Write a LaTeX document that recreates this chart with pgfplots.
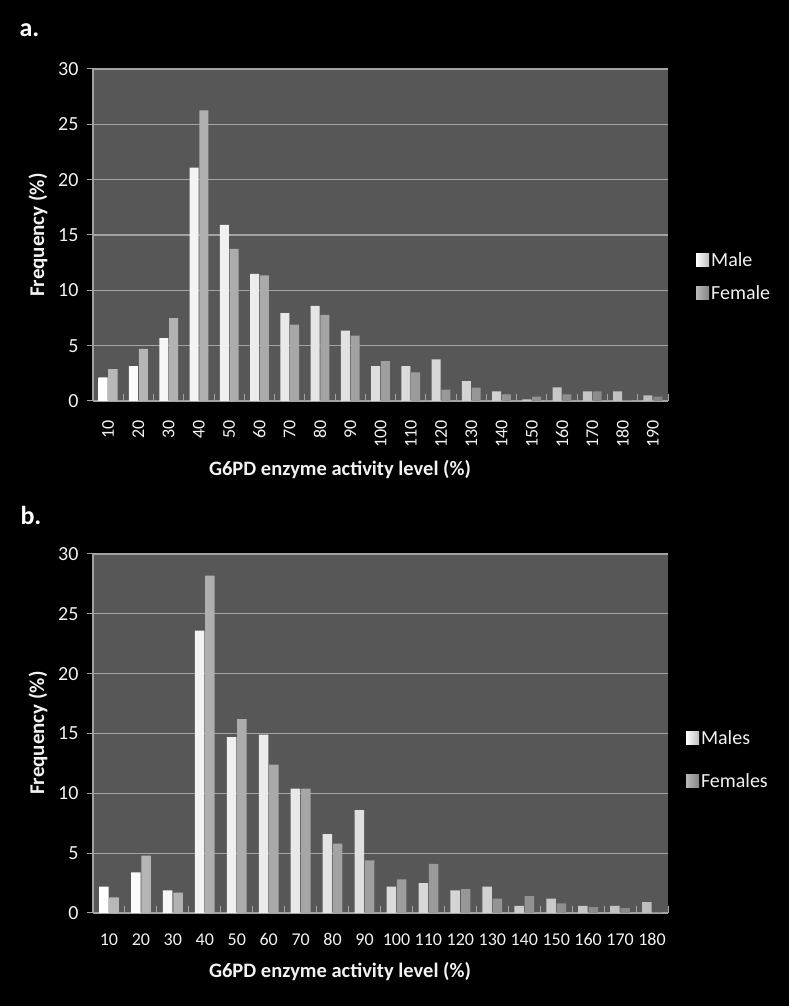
\documentclass[border=0pt]{standalone}
\usepackage{fontspec}
\setmainfont{Carlito}
\usepackage{pgfplots}
\pgfplotsset{compat=1.18}
\definecolor{plotbg}{HTML}{575757}
\definecolor{gridc}{HTML}{A3A3A3}
\definecolor{txt}{HTML}{F2F2F2}
\definecolor{mright}{HTML}{BDBDBD}
\definecolor{fleft}{HTML}{B8B8B8}
\definecolor{fright}{HTML}{858585}

\pgfplotsset{
 panel/.style={
  scale only axis, anchor=south west,
  xmin=0.5, ymin=0, ymax=30,
  ytick={0,5,10,15,20,25,30},
  axis background/.style={fill=plotbg},
  axis x line=bottom, axis y line=left,
  axis line style={draw=gridc, line width=1.2pt, -},
  ymajorgrids, major grid style={draw=gridc, line width=1.3pt},
  tick align=inside,
  major tick length=6pt, minor tick length=7pt,
  ytick style={draw=gridc, line width=1pt, xshift=-6pt},
  xtick style={draw=none},
  minor x tick style={draw=gridc, line width=1pt, yshift=7pt},
  ticklabel style={text=txt, font=\fontsize{18}{21}\selectfont},
  yticklabel style={font=\fontsize{20}{23}\selectfont},
  /pgf/number format/assume math mode=true,
  yticklabel shift=11pt,
  ybar=0.8pt, bar width=9pt,
  legend style={draw=none, fill=none, text=txt, font=\fontsize{20}{23}\selectfont,
    anchor=north west, inner sep=0pt, legend cell align=left},
  clip=false,
 },
 malebar/.style={draw=none, left color=white, right color=mright,
   legend image code/.code={\fill[left color=white, right color=mright] (0pt,-6.5pt) rectangle (13pt,6.5pt);}},
 femalebar/.style={draw=none, left color=fleft, right color=fright,
   legend image code/.code={\fill[left color=fleft, right color=fright] (0pt,-6.5pt) rectangle (13pt,6.5pt);}},
}

\pgfplotstableread{
x m f
1 2.14 2.89
2 3.16 4.72
3 5.69 7.49
4 21.09 26.26
5 15.91 13.75
6 11.49 11.34
7 7.94 6.89
8 8.60 7.79
9 6.35 5.90
10 3.16 3.61
11 3.16 2.59
12 3.76 1.02
13 1.80 1.20
14 0.87 0.60
15 0.15 0.39
16 1.23 0.60
17 0.87 0.87
18 0.87 0.06
19 0.51 0.39
}\dataA

\pgfplotstableread{
x m f
1 2.2 1.3
2 3.4 4.8
3 1.9 1.7
4 23.6 28.2
5 14.7 16.2
6 14.9 12.4
7 10.4 10.4
8 6.6 5.8
9 8.6 4.4
10 2.2 2.8
11 2.5 4.1
12 1.9 2.0
13 2.2 1.2
14 0.6 1.4
15 1.2 0.8
16 0.6 0.5
17 0.6 0.4
18 0.9 0.05
}\dataB

\begin{document}
\begin{tikzpicture}[x=1pt,y=1pt]
\fill[black] (0pt,0pt) rectangle (789pt,1006pt);
\useasboundingbox (0pt,0pt) rectangle (789pt,1006pt);

% ---------- panel a ----------
\begin{axis}[panel, at={(93pt,605pt)}, width=575pt, height=332pt,
  xmax=19.5,
  xtick={1,...,19},
  xticklabels={10,20,30,40,50,60,70,80,90,100,110,120,130,140,150,160,170,180,190},
  minor xtick={0.5,1.5,...,19.5},
  xticklabel style={rotate=90, anchor=east},
  xticklabel shift=10pt,
  legend style={at={(1.0487,0.455)}, row sep=14pt},
]
\addplot[malebar] table[x=x,y=m]{\dataA};
\addplot[femalebar] table[x=x,y=f]{\dataA};
\legend{Male,Female}
\end{axis}

% ---------- panel b ----------
\begin{axis}[panel, at={(93pt,93pt)}, width=575pt, height=359pt,
  xmax=18.5,
  xtick={1,...,18},
  xticklabels={10,20,30,40,50,60,70,80,90,100,110,120,130,140,150,160,170,180},
  minor xtick={0.5,1.5,...,18.5},
  xticklabel shift=11pt,
  bar width=9.5pt,
  legend style={at={(1.031,0.515)}, row sep=24pt},
]
\addplot[malebar] table[x=x,y=m]{\dataB};
\addplot[femalebar] table[x=x,y=f]{\dataB};
\legend{Males,Females}
\end{axis}

% ---------- texts ----------
\node[anchor=base west, text=white, font=\fontsize{26}{30}\selectfont\bfseries] at (16pt,969pt) {a.};
\node[anchor=base west, text=white, font=\fontsize{26}{30}\selectfont\bfseries] at (17pt,481pt) {b.};
\node[rotate=90, text=txt, font=\fontsize{21}{24}\selectfont\bfseries] at (38pt,771pt) {Frequency (\%)};
\node[rotate=90, text=txt, font=\fontsize{21}{24}\selectfont\bfseries] at (38pt,273pt) {Frequency (\%)};
\node[text=txt, font=\fontsize{20.5}{24}\selectfont\bfseries] at (340pt,536pt) {G6PD enzyme activity level (\%)};
\node[text=txt, font=\fontsize{20.5}{24}\selectfont\bfseries] at (340pt,34pt) {G6PD enzyme activity level (\%)};
\end{tikzpicture}
\end{document}
